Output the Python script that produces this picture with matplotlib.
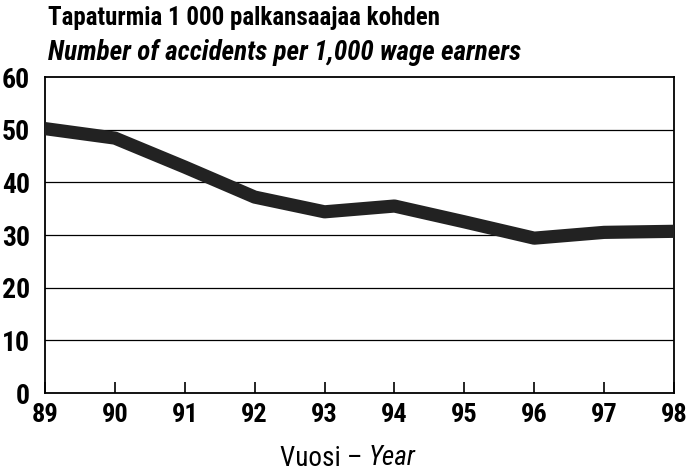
import matplotlib
matplotlib.use("Agg")
import matplotlib.pyplot as plt

# Accidents per 1,000 wage earners
years = [89, 90, 91, 92, 93, 94, 95, 96, 97, 98]
rate = [50.2, 48.4, 42.9, 37.2, 34.4, 35.5, 32.5, 29.4, 30.5, 30.7]
ytick_vals = [0, 10, 20, 30, 40, 50, 60]

title_fi = "Tapaturmia 1 000 palkansaajaa kohden"
title_en = "Number of accidents per 1,000 wage earners"

plt.rcParams['font.family'] = ['Roboto Condensed', 'DejaVu Sans']

fig = plt.figure(figsize=(6.86, 4.71), dpi=100)
ax = fig.add_axes([45/686, 78/471, 629/686, 316/471])

for v in ytick_vals[1:-1]:
    ax.axhline(v, color='black', lw=0.9, zorder=1)

ax.plot(years, rate, color='#222222', lw=9.5, solid_joinstyle='round',
        solid_capstyle='butt', zorder=3)

ax.set_xlim(89, 98)
ax.set_ylim(0, 60)
ax.set_xticks(years)
ax.set_xticklabels([str(y) for y in years], fontsize=19, fontweight='bold')
ax.set_yticks(ytick_vals)
ax.set_yticklabels([str(v) for v in ytick_vals], fontsize=20, fontweight='bold')
ax.tick_params(axis='x', direction='in', length=8, width=1.2, pad=7)
ax.tick_params(axis='y', length=0, pad=11)
for s in ax.spines.values():
    s.set_linewidth(1.3)

fig.text(48/686, 1 - 18/471, title_fi, fontsize=18, fontweight='bold',
         va='center', ha='left')
fig.text(48/686, 1 - 52/471, title_en, fontsize=19.5, fontweight='bold',
         style='italic', va='center', ha='left')

fig.text(369/686, 1 - 458/471, "Vuosi \u2013 ", fontsize=19.5, va='center', ha='right')
fig.text(369/686, 1 - 458/471, "Year", fontsize=19.5, style='italic',
         va='center', ha='left')

fig.savefig("out.png", dpi=100)
